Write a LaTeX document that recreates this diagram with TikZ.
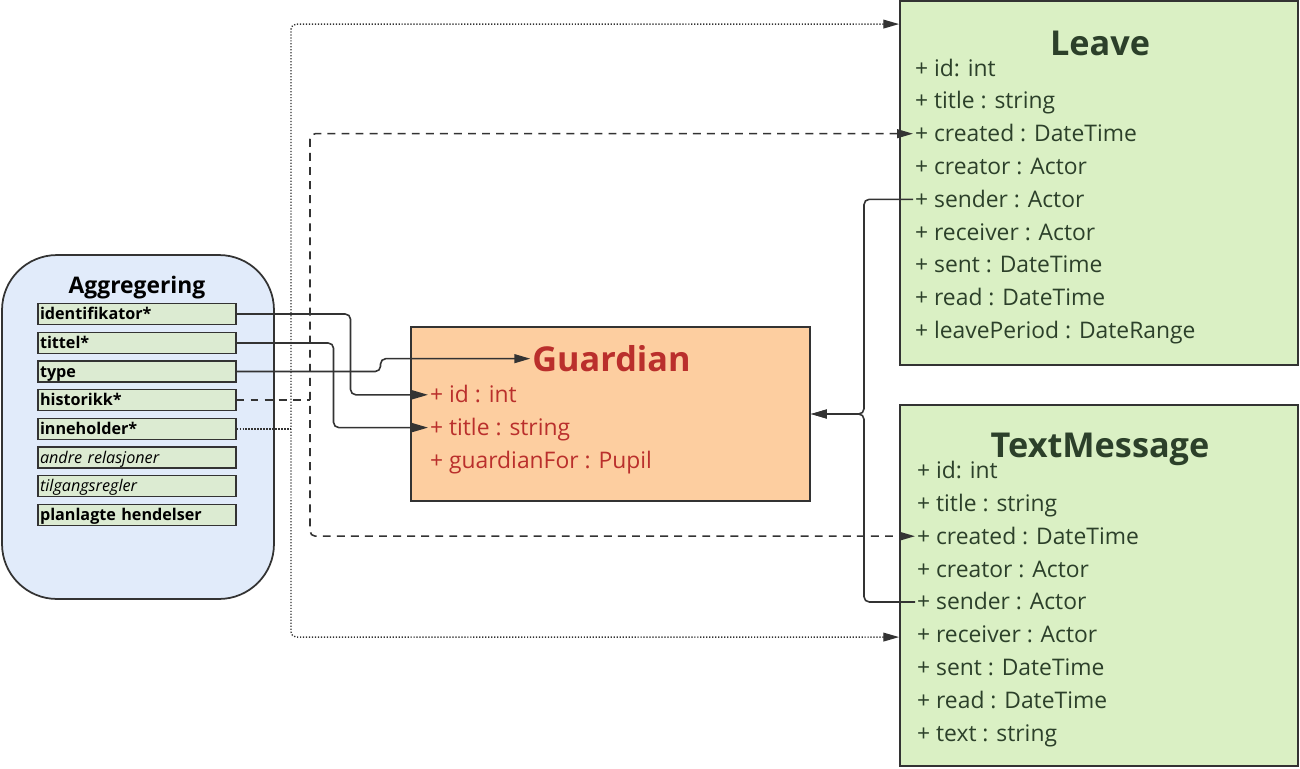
\documentclass[tikz,border=0pt]{standalone}
\usepackage{fontspec}
\setmainfont{Open Sans}
\usetikzlibrary{arrows.meta,calc}

\definecolor{aggblue}{HTML}{E1EBFA}
\definecolor{fieldgreen}{HTML}{DCEBD2}
\definecolor{classgreen}{HTML}{DAF0C4}
\definecolor{peach}{HTML}{FDCEA0}
\definecolor{guardred}{HTML}{BA2F2C}
\definecolor{darkgreen}{HTML}{2C402A}
\definecolor{linegray}{HTML}{333333}

\tikzset{
  umltip/.tip={Triangle[length=9pt,width=5pt]},
  aggbox/.style={draw=linegray, fill=aggblue, line width=1pt, rounded corners=1.1cm,
    minimum width=5.44cm, minimum height=6.88cm},
  aggtitle/.style={anchor=base, font=\fontsize{13}{15}\selectfont\bfseries, inner sep=0pt},
  field/.style={draw=linegray, fill=fieldgreen, line width=0.9pt, minimum height=0.42cm,
    text width=3.88cm, align=left, inner xsep=1pt, inner ysep=0pt,
    text height=7pt, text depth=0.5pt,
    font=\fontsize{9.2}{11}\selectfont\bfseries},
  classbox/.style={draw=linegray, fill=classgreen, line width=1.1pt,
    minimum width=7.96cm},
  guardbox/.style={draw=linegray, fill=peach, line width=1.1pt,
    minimum width=7.98cm, minimum height=3.48cm},
  classtitle/.style={anchor=base, text=darkgreen, font=\fontsize{19.5}{22}\selectfont\bfseries, inner sep=1pt},
  guardtitle/.style={classtitle, text=guardred},
  attr/.style={anchor=base west, text=darkgreen, font=\fontsize{13}{15}\selectfont,
    inner xsep=1pt, inner ysep=0pt, text height=10.5pt, text depth=1.5pt},
  guardattr/.style={attr, text=guardred},
  link/.style={draw=linegray, line width=0.9pt, rounded corners=3pt, -umltip},
  dashlink/.style={draw=linegray, line width=0.9pt, rounded corners=3pt,
    dash pattern=on 4.5pt off 3.5pt},
  dotlink/.style={draw=linegray, line width=0.8pt, rounded corners=3pt,
    dash pattern=on 0.7pt off 1pt}
}

\begin{document}
\begin{tikzpicture}[x=0.02cm, y=-0.02cm]
    \useasboundingbox (0,0) rectangle (1300,768);

    % aggregering
    \node[aggbox] (agg) at (138,427) {};
    \node[aggtitle] (agg-title) at (137,293) {Aggregering};
    \node[field] (a-ident) at (137,314) {identifikator*};
    \node[field] (a-tittel) at (137,343) {tittel*};
    \node[field] (a-type) at (137,371.5) {type};
    \node[field] (a-hist) at (137,400) {historikk*};
    \node[field] (a-inn) at (137,429) {inneholder*};
    \node[field, font=\fontsize{9.2}{11}\selectfont\itshape] (a-andre) at (137,457.5) {andre relasjoner};
    \node[field, font=\fontsize{9.2}{11}\selectfont\itshape] (a-tilgang) at (137,486) {tilgangsregler};
    \node[field] (a-plan) at (137,515) {planlagte hendelser};

    % guardian
    \node[guardbox] (guard) at (610.5,414) {};
    \node[guardtitle] (g-name) at (611.5,371.5) {Guardian};
    \node[guardattr] (g-id) at (428,402.7) {+ id : int};
    \node[guardattr] (g-title) at (428,435.5) {+ title : string};
    \node[guardattr] (g-for) at (428,468) {+ guardianFor : Pupil};

    % leave
    \node[classbox, minimum height=7.28cm] (leave) at (1099,183) {};
    \node[classtitle] (l-name) at (1100,55) {Leave};
    \node[attr] (l-id) at (913,76) {+ id: int};
    \node[attr] (l-title) at (913,108.8) {+ title : string};
    \node[attr] (l-created) at (913,141.6) {+ created : DateTime};
    \node[attr] (l-creator) at (913,174.4) {+ creator : Actor};
    \node[attr] (l-sender) at (913,207.2) {+ sender : Actor};
    \node[attr] (l-receiver) at (913,240) {+ receiver : Actor};
    \node[attr] (l-sent) at (913,272.8) {+ sent : DateTime};
    \node[attr] (l-read) at (913,305.6) {+ read : DateTime};
    \node[attr] (l-period) at (913,338.4) {+ leavePeriod : DateRange};

    % textmessage
    \node[classbox, minimum height=7.22cm] (tm) at (1099,585.5) {};
    \node[classtitle] (t-name) at (1100,457) {TextMessage};
    \node[attr] (t-id) at (915,478.3) {+ id: int};
    \node[attr] (t-title) at (915,511.2) {+ title : string};
    \node[attr] (t-created) at (915,544.1) {+ created : DateTime};
    \node[attr] (t-creator) at (915,577) {+ creator : Actor};
    \node[attr] (t-sender) at (915,609.9) {+ sender : Actor};
    \node[attr] (t-receiver) at (915,642.8) {+ receiver : Actor};
    \node[attr] (t-sent) at (915,675.7) {+ sent : DateTime};
    \node[attr] (t-read) at (915,708.6) {+ read : DateTime};
    \node[attr] (t-text) at (915,741.5) {+ text : string};

    % koblinger
    \coordinate (hist-join) at (310,400);
    \coordinate (inn-join) at (291,429);
    \coordinate (send-join) at (864,414);

    \draw[link] (a-ident.east) -- ++(114,0) |- (g-id.west);
    \draw[link] (a-tittel.east) -- ++(97,0) |- (g-title.west);
    \draw[link] (a-type.east) -- ++(144,0) |- (g-name.west);

    \draw[dashlink] (a-hist.east) -- (hist-join);
    \draw[dashlink, umltip-umltip] (l-created.west) -| (hist-join) |- (t-created.west);

    \draw[dotlink] (a-inn.east) -- (inn-join);
    \draw[dotlink, umltip-umltip] ($(leave.north west)+(0,24)$) -| (inn-join) |- ($(tm.north west)+(0,233)$);

    \draw[link] (l-sender.west) -| (send-join) -- (guard.east);
    \draw[link] (t-sender.west) -| (send-join) -- (guard.east);
\end{tikzpicture}
\end{document}
